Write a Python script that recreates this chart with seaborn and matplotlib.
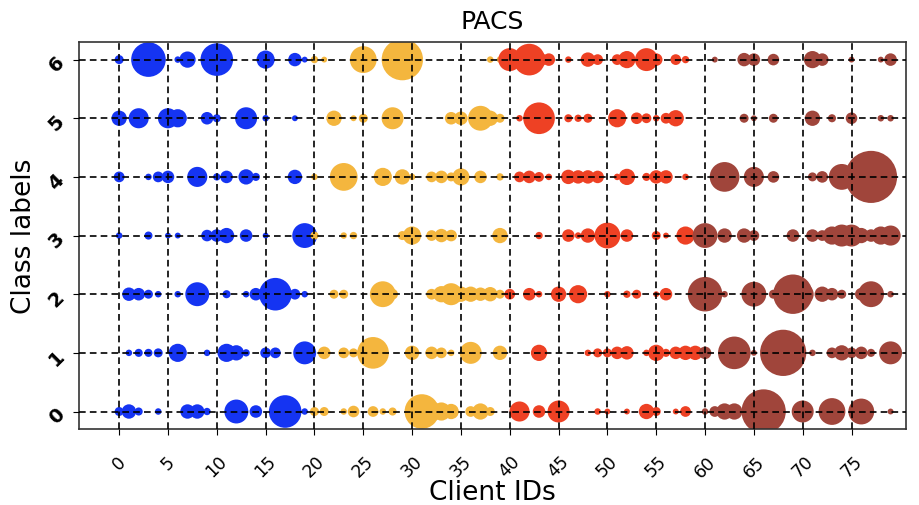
import numpy as np
import pandas as pd
import seaborn as sns
import matplotlib
matplotlib.use("Agg")
import matplotlib.pyplot as plt

# Samples per class held by each client (80 clients, 4 domains of 20 clients)
class_labels = [0, 1, 2, 3, 4, 5, 6]
domains = ["photo", "art_painting", "cartoon", "sketch"]
clients_per_domain = 20

counts_class0 = [16, 49, 12, 0, 6, 0, 0, 49, 49, 9, 0, 0, 144, 0, 36, 0, 0, 272, 0, 6,
                 16, 16, 0, 6, 30, 0, 25, 6, 12, 0, 0, 306, 100, 81, 56, 0, 25, 64, 16, 0,
                 0, 100, 0, 36, 0, 121, 0, 0, 0, 6, 4, 0, 4, 0, 56, 16, 0, 4, 25, 0,
                 6, 25, 64, 64, 0, 0, 506, 0, 0, 0, 121, 0, 0, 182, 0, 0, 169, 0, 0, 4]
counts_class1 = [0, 6, 12, 12, 16, 0, 81, 0, 0, 6, 0, 81, 56, 9, 0, 25, 25, 0, 0, 132,
                 0, 36, 0, 25, 16, 36, 256, 0, 0, 0, 49, 0, 36, 25, 6, 0, 121, 0, 0, 49,
                 0, 0, 0, 64, 0, 0, 0, 0, 6, 16, 16, 36, 42, 0, 6, 64, 12, 36, 49, 49,
                 36, 0, 0, 272, 0, 4, 0, 0, 552, 0, 0, 6, 0, 25, 56, 25, 36, 12, 0, 132]
counts_class2 = [0, 42, 36, 16, 6, 0, 6, 0, 144, 0, 0, 12, 0, 6, 36, 0, 272, 0, 25, 6,
                 0, 0, 16, 16, 0, 0, 0, 169, 25, 0, 0, 0, 25, 64, 121, 56, 56, 42, 49, 16,
                 25, 0, 36, 6, 0, 56, 0, 81, 0, 0, 6, 0, 9, 16, 0, 4, 36, 0, 0, 0,
                 306, 0, 6, 0, 0, 156, 0, 16, 0, 400, 121, 0, 56, 36, 16, 0, 36, 169, 0, 6]
counts_class3 = [6, 0, 0, 12, 0, 4, 4, 0, 0, 30, 36, 56, 0, 36, 0, 4, 0, 0, 0, 156,
                 12, 0, 0, 6, 9, 0, 0, 0, 0, 16, 81, 0, 25, 42, 30, 0, 0, 0, 0, 56,
                 0, 0, 0, 9, 0, 0, 36, 6, 49, 0, 169, 0, 36, 0, 0, 16, 4, 0, 81, 0,
                 156, 0, 49, 0, 49, 25, 0, 0, 0, 36, 0, 36, 25, 81, 121, 121, 56, 36, 81, 100]
counts_class4 = [25, 0, 0, 6, 25, 36, 0, 0, 100, 0, 9, 36, 0, 56, 12, 0, 0, 0, 49, 0,
                 6, 0, 0, 196, 0, 0, 0, 81, 0, 56, 6, 0, 25, 36, 16, 72, 0, 36, 0, 9,
                 0, 25, 36, 20, 6, 0, 49, 42, 42, 36, 0, 6, 64, 0, 12, 42, 42, 0, 6, 0,
                 0, 0, 225, 0, 0, 100, 0, 30, 0, 0, 0, 16, 30, 0, 169, 0, 0, 702, 0, 0]
counts_class5 = [56, 0, 100, 0, 0, 100, 81, 0, 0, 36, 12, 0, 0, 121, 0, 6, 0, 0, 4, 0,
                 0, 0, 56, 0, 4, 16, 0, 0, 121, 0, 0, 0, 0, 0, 36, 42, 0, 156, 56, 16,
                 0, 6, 0, 256, 0, 0, 12, 9, 16, 0, 0, 81, 0, 30, 20, 6, 25, 64, 0, 0,
                 0, 0, 0, 0, 16, 4, 0, 16, 0, 0, 0, 56, 0, 12, 0, 30, 0, 0, 6, 6]
counts_class6 = [16, 0, 0, 306, 0, 0, 6, 64, 0, 0, 272, 0, 0, 0, 0, 81, 0, 0, 42, 4,
                 9, 4, 0, 0, 0, 182, 0, 0, 0, 441, 0, 0, 0, 0, 0, 0, 0, 0, 6, 6,
                 132, 0, 256, 56, 36, 0, 6, 0, 49, 25, 0, 25, 72, 0, 132, 36, 0, 25, 9, 0,
                 0, 4, 0, 0, 42, 36, 0, 30, 0, 0, 0, 72, 36, 0, 0, 4, 0, 0, 4, 36]

domain_colors = ["#1534F2", "#F4B63E", "#EE4124", "#A0453B"]
x_ticks = list(range(0, 80, 5))

all_counts = [counts_class0, counts_class1, counts_class2, counts_class3,
              counts_class4, counts_class5, counts_class6]

rows = []
for label, counts in zip(class_labels, all_counts):
    for client, n in enumerate(counts):
        if n > 0:
            rows.append({"client": client, "label": label, "count": n,
                         "domain": domains[client // clients_per_domain]})
df = pd.DataFrame(rows)

fig = plt.figure(figsize=(9.2, 5.06), dpi=100)
ax = fig.add_axes([0.086, 0.150, 0.899, 0.765])

# marker area grows linearly with the number of samples
max_n = 1000
sns.scatterplot(data=df, x="client", y="label", hue="domain", hue_order=domains,
                palette=domain_colors, size="count", size_norm=(0, max_n),
                sizes=(10, 2000), linewidth=0, alpha=1.0,
                legend=False, ax=ax, zorder=2)

ax.set_xlim(-4.1, 80.6)
ax.set_ylim(-0.3, 6.3)
ax.set_xticks(x_ticks)
ax.set_xticklabels([str(t) for t in x_ticks], rotation=45, fontsize=12.5)
ax.tick_params(axis="x", pad=12, length=4.5)
ax.tick_params(axis="y", length=4.5)
ax.set_yticks(class_labels)
ax.set_yticklabels([str(c) for c in class_labels], rotation=45, fontsize=14,
                   fontweight="bold")
ax.grid(True, color="black", linestyle="--", linewidth=1.2, dashes=(4, 2.5))
ax.set_axisbelow(False)
for sp in ax.spines.values():
    sp.set_color("#333333")
    sp.set_linewidth(1.2)

ax.set_title("PACS", fontsize=18, pad=10)
ax.set_xlabel("Client IDs", fontsize=19, labelpad=-1)
ax.set_ylabel("Class labels", fontsize=19, labelpad=6)

fig.savefig("out.png", dpi=100)
